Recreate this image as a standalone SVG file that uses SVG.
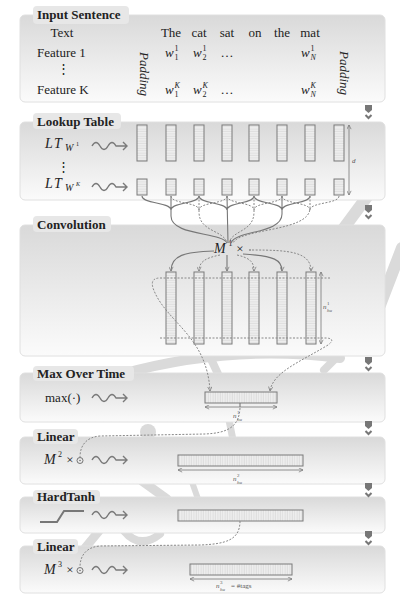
<svg xmlns="http://www.w3.org/2000/svg" width="400" height="603" viewBox="0 0 400 603">
<defs>
<linearGradient id="pg" x1="0" y1="0" x2="0" y2="1">
<stop offset="0" stop-color="#d9d9d9"/><stop offset="1" stop-color="#fbfbfb"/>
</linearGradient>
<pattern id="hs" width="4" height="2.4" patternUnits="userSpaceOnUse">
<rect width="4" height="2.4" fill="#efefef"/><line x1="0" y1="1.8" x2="4" y2="1.8" stroke="#d0d0d0" stroke-width="0.6"/>
</pattern>
<pattern id="vs" width="2.4" height="4" patternUnits="userSpaceOnUse">
<rect width="2.4" height="4" fill="#efefef"/><line x1="1.8" y1="0" x2="1.8" y2="4" stroke="#cdcdcd" stroke-width="0.6"/>
</pattern>
<marker id="ah" viewBox="0 0 6 6" refX="5.5" refY="3" markerWidth="5" markerHeight="5" orient="auto-start-reverse" markerUnits="userSpaceOnUse">
<path d="M0.5,0.5 L5.5,3 L0.5,5.5" fill="none" stroke="#777" stroke-width="0.9"/>
</marker>
<path id="wave" d="M0,0 q4,-7 8,0 t8,0 t8,0 l11,0 M31,-4 l4,4 l-4,4" fill="none" stroke="#7a7a7a" stroke-width="1.4"/>
<g id="chev">
<polygon points="0,0 7,0 7,5 3.5,8 0,5" fill="#777"/>
<polyline points="0.5,10 3.5,13 6.5,10" fill="none" stroke="#777" stroke-width="2"/>
</g>
</defs>
<style>
.panel{fill:url(#pg);stroke:#e0e0e0;stroke-width:1}
.tab{fill:#e7e7e7}
.ttl{font-family:"Liberation Serif","DejaVu Serif",serif;font-weight:bold;font-size:13px;fill:#222}
.t{font-family:"Liberation Serif","DejaVu Serif",serif;font-size:13px;fill:#222}
.it{font-style:italic}
.mm{font-size:14px}
.sc{font-size:8px}
.tiny{font-size:7px;fill:#555}
.tinys{font-size:5px;fill:#555}
.col{fill:url(#hs);stroke:#7a7a7a;stroke-width:1}
.bar{fill:url(#vs);stroke:#7a7a7a;stroke-width:1}
.sol{fill:none;stroke:#777;stroke-width:1.1}
.dot{fill:none;stroke:#888;stroke-width:1;stroke-dasharray:2 1.5}
.arr{marker-end:url(#ah)}
.dim{fill:none;stroke:#777;stroke-width:0.8;marker-start:url(#ah);marker-end:url(#ah)}
.bg{fill:none;stroke:#dadada;stroke-linecap:round}
</style>

<g id="background">
<path class="bg" d="M338,236 L375,186" stroke-width="12"/>
<path class="bg" d="M380,305 L402,248" stroke-width="12"/>
<path class="bg" d="M122,374 Q230,344 340,358" stroke-width="10"/>
<path class="bg" d="M204,344 L218,374" stroke-width="8"/>
<path class="bg" d="M324,370 L352,342" stroke-width="8" stroke="#e6e6e6"/>
<circle cx="148" cy="432" r="8" fill="#dadada"/>
<path class="bg" d="M229,420 L233,440" stroke-width="7"/>
<path class="bg" d="M142,481 L167,499" stroke-width="9"/>
<path class="bg" d="M192,482 L198,499" stroke-width="6"/>
<path class="bg" d="M99,531 L85,548" stroke-width="9"/>
<path class="bg" d="M124,531 Q140,550 160,534" stroke-width="8"/>
</g>

<g id="input">
<rect class="panel" x="20" y="15" width="365" height="87" rx="5"/>
<rect class="tab" x="33" y="6" width="96" height="18" rx="4"/>
<text class="ttl" x="37" y="19">Input Sentence</text>
<text class="t" x="62" y="37" text-anchor="middle">Text</text>
<text class="t" x="37" y="57">Feature 1</text>
<text class="t" x="63" y="73" text-anchor="middle">⋮</text>
<text class="t" x="37" y="94">Feature K</text>
<text class="t it" transform="translate(140,52) rotate(90)">Padding</text>
<text class="t it" transform="translate(340,51) rotate(90)">Padding</text>
<g class="t" text-anchor="middle">
<text x="171" y="37">The</text><text x="199" y="37">cat</text><text x="227" y="37">sat</text>
<text x="255" y="37">on</text><text x="282" y="37">the</text><text x="310" y="37">mat</text>
<text x="227" y="57">…</text><text x="227" y="94">…</text>
</g>
<g class="t">
<text class="it" x="165" y="57">w</text><text class="sc" x="174.5" y="51">1</text><text class="sc" x="174.5" y="60">1</text>
<text class="it" x="193" y="57">w</text><text class="sc" x="202.5" y="51">1</text><text class="sc" x="202.5" y="60">2</text>
<text class="it" x="301" y="57">w</text><text class="sc" x="310.5" y="51">1</text><text class="sc it" x="310.5" y="60">N</text>
<text class="it" x="165" y="94">w</text><text class="sc it" x="174.5" y="88">K</text><text class="sc" x="174.5" y="97">1</text>
<text class="it" x="193" y="94">w</text><text class="sc it" x="202.5" y="88">K</text><text class="sc" x="202.5" y="97">2</text>
<text class="it" x="301" y="94">w</text><text class="sc it" x="310.5" y="88">K</text><text class="sc it" x="310.5" y="97">N</text>
</g>
</g>

<g id="lookup">
<rect class="panel" x="20" y="122" width="365" height="78" rx="5"/>
<rect class="tab" x="33" y="113" width="88" height="16" rx="4"/>
<text class="ttl" x="37" y="126">Lookup Table</text>
<g class="t it">
<text class="mm" x="45" y="148" letter-spacing="1.5">LT</text><text x="65" y="151" font-size="10">W</text><text x="76" y="146" font-size="6" font-style="normal">1</text>
<text class="mm" x="45" y="188" letter-spacing="1.5">LT</text><text x="65" y="191" font-size="10">W</text><text x="76" y="186" font-size="6">K</text>
</g>
<text class="t" x="63" y="171" text-anchor="middle">⋮</text>
<use href="#wave" x="92" y="146"/>
<use href="#wave" x="92" y="187"/>
<rect class="col" x="137" y="125" width="10" height="36"/>
<rect class="col" x="166" y="125" width="10" height="36"/>
<rect class="col" x="194" y="125" width="10" height="36"/>
<rect class="col" x="222" y="125" width="10" height="36"/>
<rect class="col" x="249" y="125" width="10" height="36"/>
<rect class="col" x="277" y="125" width="10" height="36"/>
<rect class="col" x="305" y="125" width="10" height="36"/>
<rect class="col" x="334" y="125" width="10" height="36"/>
<rect class="col" x="137" y="179" width="10" height="16"/>
<rect class="col" x="166" y="179" width="10" height="16"/>
<rect class="col" x="194" y="179" width="10" height="16"/>
<rect class="col" x="222" y="179" width="10" height="16"/>
<rect class="col" x="249" y="179" width="10" height="16"/>
<rect class="col" x="277" y="179" width="10" height="16"/>
<rect class="col" x="305" y="179" width="10" height="16"/>
<rect class="col" x="334" y="179" width="10" height="16"/>
<path class="dim" d="M349,125 L349,195"/>
<text class="t it tiny" x="352" y="163">d</text>
</g>

<g id="conv">
<rect class="panel" x="20" y="225" width="365" height="131" rx="5"/>
<rect class="tab" x="33" y="216" width="78" height="16" rx="4"/>
<text class="ttl" x="37" y="229">Convolution</text>
<text class="t it mm" x="214" y="253">M</text><text class="t sc" x="228.5" y="246">1</text>
<text class="t" x="240" y="253" text-anchor="middle">×</text>
<circle cx="250" cy="250" r="0.8" fill="#555"/>
<rect class="col" x="166" y="272" width="10" height="72"/>
<rect class="col" x="194" y="272" width="10" height="72"/>
<rect class="col" x="222" y="272" width="10" height="72"/>
<rect class="col" x="249" y="272" width="10" height="72"/>
<rect class="col" x="277" y="272" width="10" height="72"/>
<rect class="col" x="306" y="272" width="10" height="72"/>
<path class="dim" d="M321,272 L321,344"/>
<text class="t it tiny" x="323" y="309">n</text><text class="t tinys" x="327" y="305">1</text><text class="t it tinys" x="327" y="311.5">hu</text>
</g>

<g id="maxovertime">
<rect class="panel" x="20" y="373" width="365" height="49" rx="5"/>
<rect class="tab" x="33" y="366" width="101" height="15" rx="4"/>
<text class="ttl" x="37" y="378">Max Over Time</text>
<text class="t" x="45" y="402">max(·)</text>
<use href="#wave" x="92" y="398"/>
<rect class="bar" x="205" y="392" width="72" height="11"/>
<path class="dim" d="M205,407 L277,407"/>
<path class="sol" d="M240,403 L240,407" stroke-width="0.8"/>
<text class="t it tiny" x="233" y="418">n</text><text class="t tinys" x="237" y="414">1</text><text class="t it tinys" x="237" y="420.5">hu</text>
</g>

<g id="linear1">
<rect class="panel" x="20" y="437" width="365" height="47" rx="5"/>
<rect class="tab" x="33" y="429" width="45" height="15" rx="4"/>
<text class="ttl" x="37" y="441">Linear</text>
<text class="t it mm" x="44" y="464">M</text><text class="t sc" x="58" y="457">2</text>
<text class="t" x="70" y="464" text-anchor="middle">×</text>
<circle cx="80" cy="460.5" r="3" fill="none" stroke="#555" stroke-width="0.8"/><circle cx="80" cy="460.5" r="0.7" fill="#555"/>
<use href="#wave" x="92" y="460"/>
<rect class="bar" x="178" y="455" width="125" height="11"/>
<path class="dim" d="M178,470 L303,470"/>
<text class="t it tiny" x="233" y="481">n</text><text class="t tinys" x="237" y="477">2</text><text class="t it tinys" x="237" y="483.5">hu</text>
</g>

<g id="hardtanh">
<rect class="panel" x="20" y="497" width="365" height="36" rx="5"/>
<rect class="tab" x="33" y="490" width="67" height="14" rx="4"/>
<text class="ttl" x="37" y="501">HardTanh</text>
<polyline points="40,522 57,522 64,511 84,511" fill="none" stroke="#777" stroke-width="2"/>
<use href="#wave" x="92" y="515"/>
<rect class="bar" x="178" y="510" width="125" height="11"/>
</g>

<g id="linear2">
<rect class="panel" x="20" y="546" width="365" height="47" rx="5"/>
<rect class="tab" x="33" y="539" width="45" height="15" rx="4"/>
<text class="ttl" x="37" y="551">Linear</text>
<text class="t it mm" x="44" y="574">M</text><text class="t sc" x="58" y="567">3</text>
<text class="t" x="70" y="574" text-anchor="middle">×</text>
<circle cx="80" cy="570.5" r="3" fill="none" stroke="#555" stroke-width="0.8"/><circle cx="80" cy="570.5" r="0.7" fill="#555"/>
<use href="#wave" x="92" y="570"/>
<rect class="bar" x="190" y="564" width="102" height="11"/>
<path class="dim" d="M190,579 L292,579"/>
<text class="t it tiny" x="216" y="588">n</text><text class="t tinys" x="220" y="584">3</text><text class="t it tinys" x="220" y="590.5">hu</text>
<text class="t tiny" x="231" y="588">= #tags</text>
</g>

<g id="connectors">
<use href="#chev" x="365" y="105"/>
<use href="#chev" x="365" y="205"/>
<use href="#chev" x="365" y="357"/>
<use href="#chev" x="365" y="421"/>
<use href="#chev" x="365" y="483"/>
<use href="#chev" x="365" y="531"/>
<path class="sol" d="M142,196 C142,204 171,202 171,210 M199,196 C199,204 171,202 171,210 M171,196 V216 C171,236 222,232 227,243"/>
<path class="sol" d="M199,196 C199,204 227,202 227,210 M254,196 C254,204 227,202 227,210 M227,196 L228,243"/>
<path class="sol" d="M254,196 C254,204 282,202 282,210 M310,196 C310,204 282,202 282,210 M282,196 V214 C282,234 236,230 231,243"/>
<path class="dot" d="M171,196 C171,204 199,202 199,210 M227,196 C227,204 199,202 199,210 M199,196 V212 C199,232 224,230 227,243"/>
<path class="dot" d="M227,196 C227,204 254,202 254,210 M282,196 C282,204 254,202 254,210 M254,196 V212 C254,232 232,230 229,243"/>
<path class="dot" d="M282,196 C282,204 310,202 310,210 M339,196 C339,204 310,202 310,210 M310,196 V208 C310,232 240,228 233,243"/>
<path class="sol arr" d="M214,251 C185,252 171,255 171,271"/>
<path class="dot arr" d="M220,255 C205,258 199,262 199,271"/>
<path class="sol arr" d="M227,255 L227,271"/>
<path class="dot arr" d="M237,255 C250,258 254,262 254,271"/>
<path class="sol arr" d="M243,254 C275,256 282,260 282,271"/>
<path class="dot arr" d="M252,250 C290,250 311,252 311,271"/>
<path class="dot arr" d="M330,278 L160,278 Q150,278 153,288 C165,322 207,335 210,391"/>
<path class="dot arr" d="M160,338 L327,338 Q336,339 328,345 C300,362 273,372 270,391"/>
<path class="dot" d="M240,408 C239,428 226,433 205,434 L100,436 C86,437 80,446 80,457"/>
<path class="dot" d="M240,521 C240,540 226,544 200,545 L100,546 C86,547 80,556 80,567"/>
</g>
</svg>
